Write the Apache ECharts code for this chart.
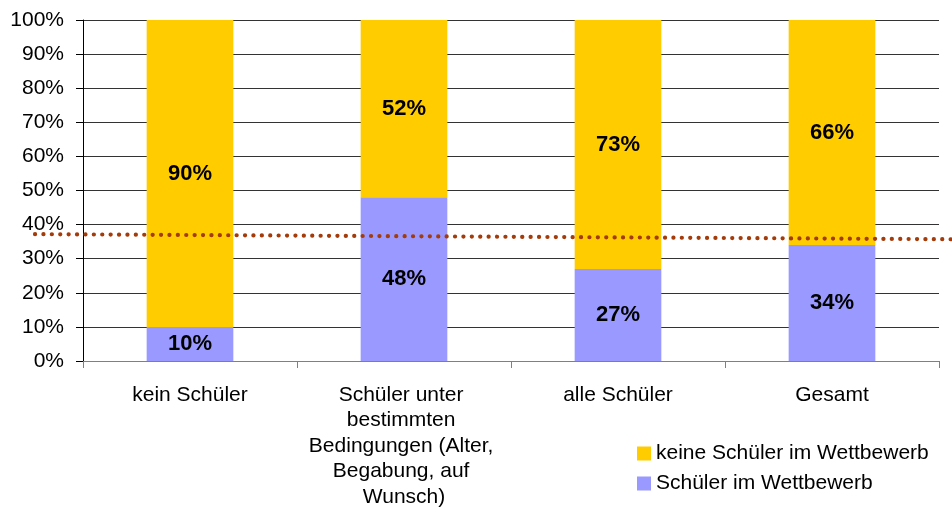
<!DOCTYPE html>
<html>
<head>
<meta charset="utf-8">
<script src="https://cdn.jsdelivr.net/npm/echarts@6/dist/echarts.min.js"></script>
<style>html,body{margin:0;padding:0;background:#fff}#c{width:952px;height:516px}</style>
</head>
<body>
<div id="c"></div>
<script>
var categories = ['kein Schüler', 'Schüler unter bestimmten Bedingungen (Alter, Begabung, auf Wunsch)', 'alle Schüler', 'Gesamt'];
var seriesNames = ['Schüler im Wettbewerb', 'keine Schüler im Wettbewerb'];
var schuelerIm = [10, 48, 27, 34];
var keineSchueler = [90, 52, 73, 66];
var refLine = [37.2, 35.7];
var yTicks = [0, 100, 10];

var font = '"Liberation Sans", Arial, sans-serif';
var chart = echarts.init(document.getElementById('c'));
chart.setOption({
  animation: false,
  textStyle: { fontFamily: font },
  grid: [
    { left: 83, right: 13, top: 20, bottom: 155 },
    { left: 35, right: 0, top: 20, bottom: 155 }
  ],
  legend: {
    orient: 'vertical', left: 637, top: 443, padding: 0,
    itemWidth: 14, itemHeight: 14, itemGap: 9,
    icon: 'rect',
    data: [seriesNames[1], seriesNames[0]],
    textStyle: { fontSize: 21, color: '#000', fontFamily: font }
  },
  xAxis: [
    {
      gridIndex: 0, type: 'category', data: categories,
      axisLine: { lineStyle: { color: '#808080', width: 1 } },
      axisTick: { show: true, length: 7, lineStyle: { color: '#808080' } },
      axisLabel: {
        color: '#000', fontSize: 21, fontFamily: font, margin: 21,
        width: 200, overflow: 'break', lineHeight: 25.5, interval: 0, align: 'center'
      }
    },
    { gridIndex: 1, type: 'value', min: 0, max: 1, show: false }
  ],
  yAxis: [
    {
      gridIndex: 0, type: 'value', min: yTicks[0], max: yTicks[1], interval: yTicks[2],
      axisLine: { show: true, lineStyle: { color: '#000' } },
      axisTick: { show: true, length: 7, lineStyle: { color: '#000' } },
      axisLabel: { formatter: '{value}%', color: '#000', fontSize: 21, fontFamily: font, margin: 19 },
      splitLine: { lineStyle: { color: '#333', width: 1 } }
    },
    { gridIndex: 1, type: 'value', min: yTicks[0], max: yTicks[1], show: false }
  ],
  series: [
    {
      name: seriesNames[0], type: 'bar', stack: 's', data: schuelerIm, barWidth: '40.5%',
      itemStyle: { color: '#9999FF' },
      label: { show: true, position: 'inside', formatter: '{c}%', fontSize: 22, fontWeight: 'bold', color: '#000', fontFamily: font }
    },
    {
      name: seriesNames[1], type: 'bar', stack: 's', data: keineSchueler, barWidth: '40.5%',
      itemStyle: { color: '#FFCC00' },
      label: { show: true, position: 'inside', formatter: '{c}%', fontSize: 22, fontWeight: 'bold', color: '#000', fontFamily: font }
    },
    {
      type: 'line', xAxisIndex: 1, yAxisIndex: 1, z: 10, symbol: 'none', silent: true,
      data: [[0, refLine[0]], [1, refLine[1]]],
      lineStyle: { color: '#A33C0A', width: 4.2, type: [0.1, 8.3], cap: 'round' }
    }
  ]
});
</script>
</body>
</html>
